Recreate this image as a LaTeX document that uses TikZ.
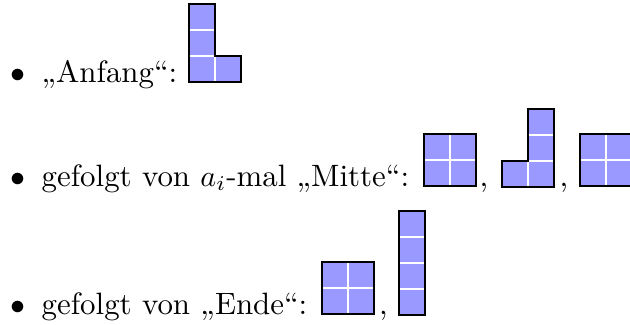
\documentclass[tikz,border=0pt]{standalone}
\usepackage{fontspec}
\begin{document}
\begin{tikzpicture}[x=0.3333pt,y=-0.3333pt,
  cellfill/.style={fill=blue!40},
  gridline/.style={draw=white, line width=0.4pt},
  outline/.style={draw=black, line width=0.85pt, line join=miter},
  txt/.style={anchor=base west, inner sep=0pt, font=\fontsize{10.3pt}{12pt}\selectfont}]
\clip (0,0) rectangle (630,324);
% line 1 text
\node[txt] (b1) at (10,82) {$\bullet$};
\node[txt] (t1) at (41,82) {„Anfang“:};
% L piece
\fill[cellfill] (189,82) -- (241,82) -- (241,56) -- (215,56) -- (215,4) -- (189,4) -- cycle;
\draw[gridline] (189,30) -- (215,30) (189,56) -- (215,56) (215,56) -- (215,82);
\draw[outline] (189,82) -- (241,82) -- (241,56) -- (215,56) -- (215,4) -- (189,4) -- cycle;
% line 2 text
\node[txt] (b2) at (10,186) {$\bullet$};
\node[txt] (t2) at (41,186) {gefolgt von $a_i$-mal „Mitte“:};
% square
\fill[cellfill] (424,134) rectangle (476,186);
\draw[gridline] (450,134) -- (450,186) (424,160) -- (476,160);
\draw[outline] (424,134) rectangle (476,186);
\node[txt] (c1) at (479,186) {,};
% reversed L
\fill[cellfill] (502,187) -- (554,187) -- (554,109) -- (528,109) -- (528,161) -- (502,161) -- cycle;
\draw[gridline] (528,161) -- (528,187) (528,135) -- (554,135) (528,161) -- (554,161);
\draw[outline] (502,187) -- (554,187) -- (554,109) -- (528,109) -- (528,161) -- (502,161) -- cycle;
\node[txt] (c2) at (559,186) {,};
% square cut at the edge
\fill[cellfill] (580,134) rectangle (632,186);
\draw[gridline] (606,134) -- (606,186) (580,160) -- (632,160);
\draw[outline] (580,134) rectangle (632,186);
% line 3 text
\node[txt] (b3) at (10,314) {$\bullet$};
\node[txt] (t3) at (41,314) {gefolgt von „Ende“:};
% square
\fill[cellfill] (322,262) rectangle (374,314);
\draw[gridline] (348,262) -- (348,314) (322,288) -- (374,288);
\draw[outline] (322,262) rectangle (374,314);
\node[txt] (c3) at (378.5,314) {,};
% bar
\fill[cellfill] (399,211) rectangle (425,315);
\draw[gridline] (399,237) -- (425,237) (399,263) -- (425,263) (399,289) -- (425,289);
\draw[outline] (399,211) rectangle (425,315);
\end{tikzpicture}
\end{document}
